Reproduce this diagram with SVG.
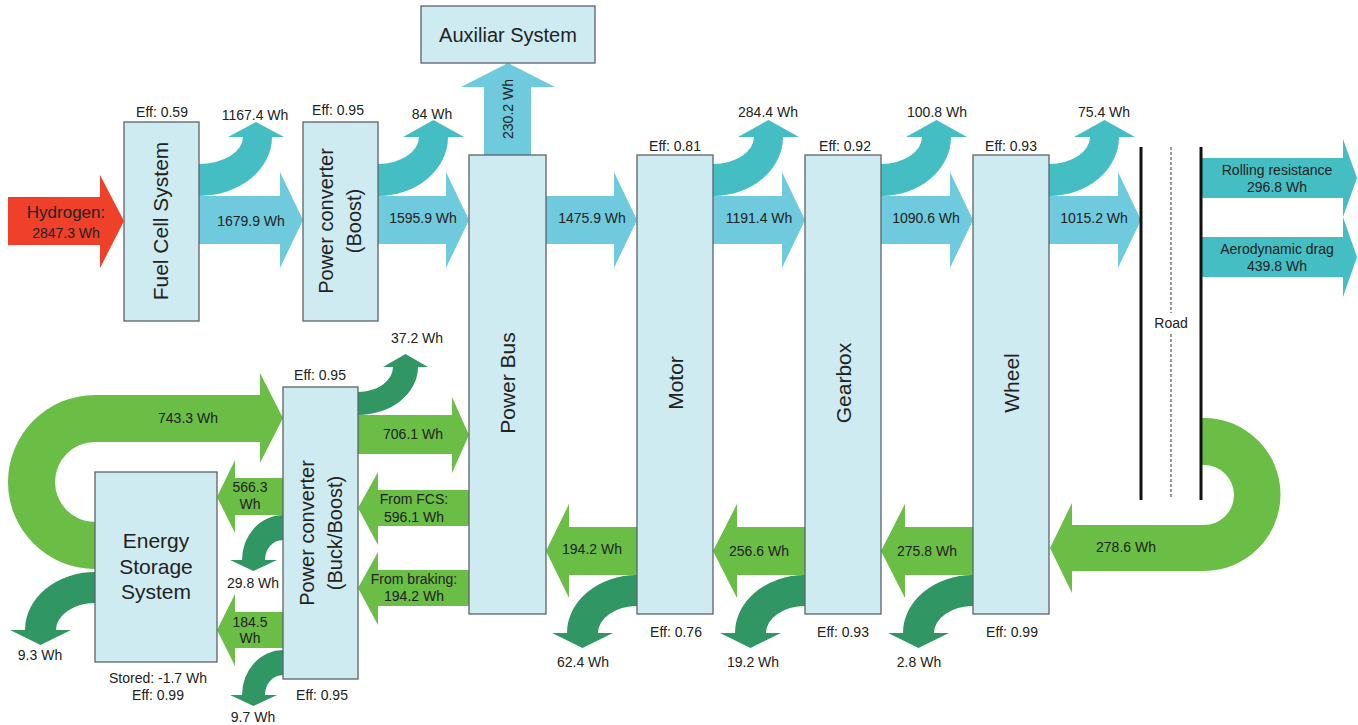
<svg xmlns="http://www.w3.org/2000/svg" xmlns:xlink="http://www.w3.org/1999/xlink" width="1358" height="725" viewBox="0 0 1358 725">
<style>
text{font-family:"Liberation Sans",Arial,sans-serif;fill:#222;}
.lb{font-size:14px;text-anchor:middle;}
.bx{font-size:21px;text-anchor:middle;}
.bx2{font-size:20px;text-anchor:middle;}
.box{fill:#cfebf2;stroke:#5c6366;stroke-width:1.3;}
.fb{fill:#6ecadc;}
.lt{fill:#45bec3;}
.fr{fill:#ef4129;}
.fg{fill:#6abd45;}
.lg{fill:#2f9664;}
.road{stroke:#111;stroke-width:3;fill:none;}
.dash{stroke:#333;stroke-width:1;stroke-dasharray:3,2;fill:none;}
</style>
<defs>
<path id="lossUp" d="M0,164 A41,27 0 0 0 41,137 H25 L55.5,120 L86,137 H70 A70,59 0 0 1 0,196 Z"/>
<path id="lossDown" d="M0,575 A70,58 0 0 0 -70,633 H-85 L-54.5,648 L-24,633 H-39 A39,27 0 0 1 0,606 Z"/>
<path id="lossSmall" d="M0,0 A41,45 0 0 0 -41,45 H-53 L-29.5,56 L-6,45 H-18 A18,20 0 0 1 0,25 Z"/>
</defs>
<rect width="1358" height="725" fill="#fff"/>

<g id="connectors">
  <path class="fr" d="M8,197 H100 V175 L124,221 L100,268 V245 H8 Z"/>
  <path class="fb" d="M199,196 H280 V172 L303,220 L280,268 V244 H199 Z"/>
  <path class="fb" d="M378,196 H446 V172 L469,220 L446,268 V244 H378 Z"/>
  <path class="fb" d="M546,196 H614 V172 L637,220 L614,268 V244 H546 Z"/>
  <path class="fb" d="M713,196 H782 V172 L805,220 L782,268 V244 H713 Z"/>
  <path class="fb" d="M881,196 H950 V172 L973,220 L950,268 V244 H881 Z"/>
  <path class="fb" d="M1049,196 H1118 V172 L1141,220 L1118,268 V244 H1049 Z"/>
  <path class="fb" d="M484,155 V87 H461 L508,63 L555,87 H531 V155 Z"/>
  <path class="lt" d="M199,164 A44,27 0 0 0 243,137 H228 L256,122 L284,137 H272 A73,59 0 0 1 199,196 Z"/>
  <use class="lt" xlink:href="#lossUp" href="#lossUp" x="378"/>
  <use class="lt" xlink:href="#lossUp" href="#lossUp" x="713"/>
  <use class="lt" xlink:href="#lossUp" href="#lossUp" x="881"/>
  <use class="lt" xlink:href="#lossUp" href="#lossUp" x="1049"/>
  <path class="lt" d="M1201,158 H1343 V139 L1357,178 L1343,217 V198 H1201 Z"/>
  <path class="lt" d="M1201,237 H1343 V217 L1357,257 L1343,297 V277 H1201 Z"/>
  <path class="fg" d="M1201,418 H1204 A76.5,76.5 0 0 1 1204,571 H1072 V593 L1050,548 L1072,503 V525 H1204 A30,30 0 0 0 1204,465 H1201 Z"/>
  <path class="fg" d="M973,527 H905 V504 L881,551 L905,598 V575 H973 Z"/>
  <path class="fg" d="M805,527 H737 V504 L713,551 L737,598 V575 H805 Z"/>
  <path class="fg" d="M637,527 H569 V504 L546,551 L569,598 V575 H637 Z"/>
  <use class="lg" xlink:href="#lossDown" href="#lossDown" x="973"/>
  <use class="lg" xlink:href="#lossDown" href="#lossDown" x="805"/>
  <use class="lg" xlink:href="#lossDown" href="#lossDown" x="637"/>
  <use class="lg" xlink:href="#lossDown" href="#lossDown" x="95" y="-3"/>
  <path class="fg" d="M95,522 A40,40 0 0 1 95,442 H260 V463 L283,418 L260,373 V395 H95 A87,87 0 0 0 95,569 Z"/>
  <path class="fg" d="M358,415 H452 V397 L469,435 L452,473 V454 H358 Z"/>
  <path class="fg" d="M469,490 H378 V472 L358,508 L378,545 V526 H469 Z"/>
  <path class="fg" d="M469,570 H378 V552 L358,588 L378,625 V606 H469 Z"/>
  <path class="fg" d="M283,478 H235 V460 L217,497 L235,533 V515 H283 Z"/>
  <path class="fg" d="M283,612 H235 V594 L217,630 L235,666 V648 H283 Z"/>
  <path class="lg" d="M358,392 A35,25 0 0 0 393,367 H383 L405.5,354 L428,367 H418 A60,48 0 0 1 358,415 Z"/>
  <use class="lg" xlink:href="#lossSmall" href="#lossSmall" x="283" y="515"/>
  <use class="lg" xlink:href="#lossSmall" href="#lossSmall" x="283" y="650"/>

  <g id="flow-labels">
    <text x="66" y="218" style="font-size:17px;text-anchor:middle">Hydrogen:</text>
    <text class="lb" x="66" y="238">2847.3 Wh</text>
    <text class="lb" x="251" y="226">1679.9 Wh</text>
    <text class="lb" x="423" y="223">1595.9 Wh</text>
    <text class="lb" x="592" y="223">1475.9 Wh</text>
    <text class="lb" x="759" y="223">1191.4 Wh</text>
    <text class="lb" x="926" y="223">1090.6 Wh</text>
    <text class="lb" x="1094" y="223">1015.2 Wh</text>
    <text class="lb" transform="translate(513,109) rotate(-90)">230.2 Wh</text>
    <text class="lb" x="255" y="120">1167.4 Wh</text>
    <text class="lb" x="432" y="119">84 Wh</text>
    <text class="lb" x="768" y="117">284.4 Wh</text>
    <text class="lb" x="937" y="117">100.8 Wh</text>
    <text class="lb" x="1104" y="117">75.4 Wh</text>
    <text class="lb" x="1277" y="175">Rolling resistance</text>
    <text class="lb" x="1277" y="192">296.8 Wh</text>
    <text class="lb" x="1277" y="254">Aerodynamic drag</text>
    <text class="lb" x="1277" y="271">439.8 Wh</text>
    <text class="lb" x="1126" y="552">278.6 Wh</text>
    <text class="lb" x="927" y="556">275.8 Wh</text>
    <text class="lb" x="759" y="556">256.6 Wh</text>
    <text class="lb" x="592" y="554">194.2 Wh</text>
    <text class="lb" x="583" y="667">62.4 Wh</text>
    <text class="lb" x="753" y="667">19.2 Wh</text>
    <text class="lb" x="919" y="667">2.8 Wh</text>
    <text class="lb" x="188" y="423">743.3 Wh</text>
    <text class="lb" x="413" y="439">706.1 Wh</text>
    <text class="lb" x="414" y="504">From FCS:</text>
    <text class="lb" x="414" y="522">596.1 Wh</text>
    <text class="lb" x="414" y="584">From braking:</text>
    <text class="lb" x="414" y="601">194.2 Wh</text>
    <text class="lb" x="250" y="492">566.3</text>
    <text class="lb" x="250" y="509">Wh</text>
    <text class="lb" x="250" y="627">184.5</text>
    <text class="lb" x="250" y="643">Wh</text>
    <text class="lb" x="417" y="343">37.2 Wh</text>
    <text class="lb" x="253" y="588">29.8 Wh</text>
    <text class="lb" x="253" y="722">9.7 Wh</text>
    <text class="lb" x="40" y="660">9.3 Wh</text>
  </g>
</g>

<g id="road">
  <line class="road" x1="1141" y1="147" x2="1141" y2="500"/>
  <line class="road" x1="1201" y1="147" x2="1201" y2="500"/>
  <line class="dash" x1="1171" y1="147" x2="1171" y2="313"/>
  <line class="dash" x1="1171" y1="334" x2="1171" y2="498"/>
  <text class="lb" x="1171" y="328">Road</text>
</g>

<g id="fuel-cell-system">
  <rect class="box" x="124" y="122" width="75" height="199"/>
  <text class="bx" transform="translate(168,221) rotate(-90)">Fuel Cell System</text>
  <text class="lb" x="162" y="117">Eff: 0.59</text>
</g>
<g id="power-converter-boost">
  <rect class="box" x="303" y="122" width="75" height="199"/>
  <text class="bx2" transform="translate(333,221) rotate(-90)">Power converter</text>
  <text class="bx2" transform="translate(361,221) rotate(-90)">(Boost)</text>
  <text class="lb" x="338" y="115">Eff: 0.95</text>
</g>
<g id="auxiliar-system">
  <rect class="box" x="421" y="6" width="174" height="57"/>
  <text class="bx2" x="508" y="42">Auxiliar System</text>
</g>
<g id="power-bus">
  <rect class="box" x="469" y="155" width="77" height="459"/>
  <text class="bx" transform="translate(515,383) rotate(-90)">Power Bus</text>
</g>
<g id="motor">
  <rect class="box" x="637" y="155" width="76" height="459"/>
  <text class="bx" transform="translate(683,383) rotate(-90)">Motor</text>
  <text class="lb" x="675" y="151">Eff: 0.81</text>
  <text class="lb" x="676" y="637">Eff: 0.76</text>
</g>
<g id="gearbox">
  <rect class="box" x="805" y="155" width="76" height="459"/>
  <text class="bx" transform="translate(851,383) rotate(-90)">Gearbox</text>
  <text class="lb" x="845" y="151">Eff: 0.92</text>
  <text class="lb" x="843" y="637">Eff: 0.93</text>
</g>
<g id="wheel">
  <rect class="box" x="973" y="155" width="76" height="459"/>
  <text class="bx" transform="translate(1019,383) rotate(-90)">Wheel</text>
  <text class="lb" x="1011" y="151">Eff: 0.93</text>
  <text class="lb" x="1012" y="637">Eff: 0.99</text>
</g>
<g id="energy-storage-system">
  <rect class="box" x="95" y="472" width="122" height="190"/>
  <text class="bx" x="156" y="548">Energy</text>
  <text class="bx" x="156" y="574">Storage</text>
  <text class="bx" x="156" y="599">System</text>
  <text class="lb" x="158" y="683">Stored: -1.7 Wh</text>
  <text class="lb" x="158" y="700">Eff: 0.99</text>
</g>
<g id="power-converter-buck-boost">
  <rect class="box" x="283" y="387" width="75" height="292"/>
  <text class="bx2" transform="translate(314,533) rotate(-90)">Power converter</text>
  <text class="bx2" transform="translate(342,533) rotate(-90)">(Buck/Boost)</text>
  <text class="lb" x="320" y="380">Eff: 0.95</text>
  <text class="lb" x="322" y="700">Eff: 0.95</text>
</g>
</svg>
